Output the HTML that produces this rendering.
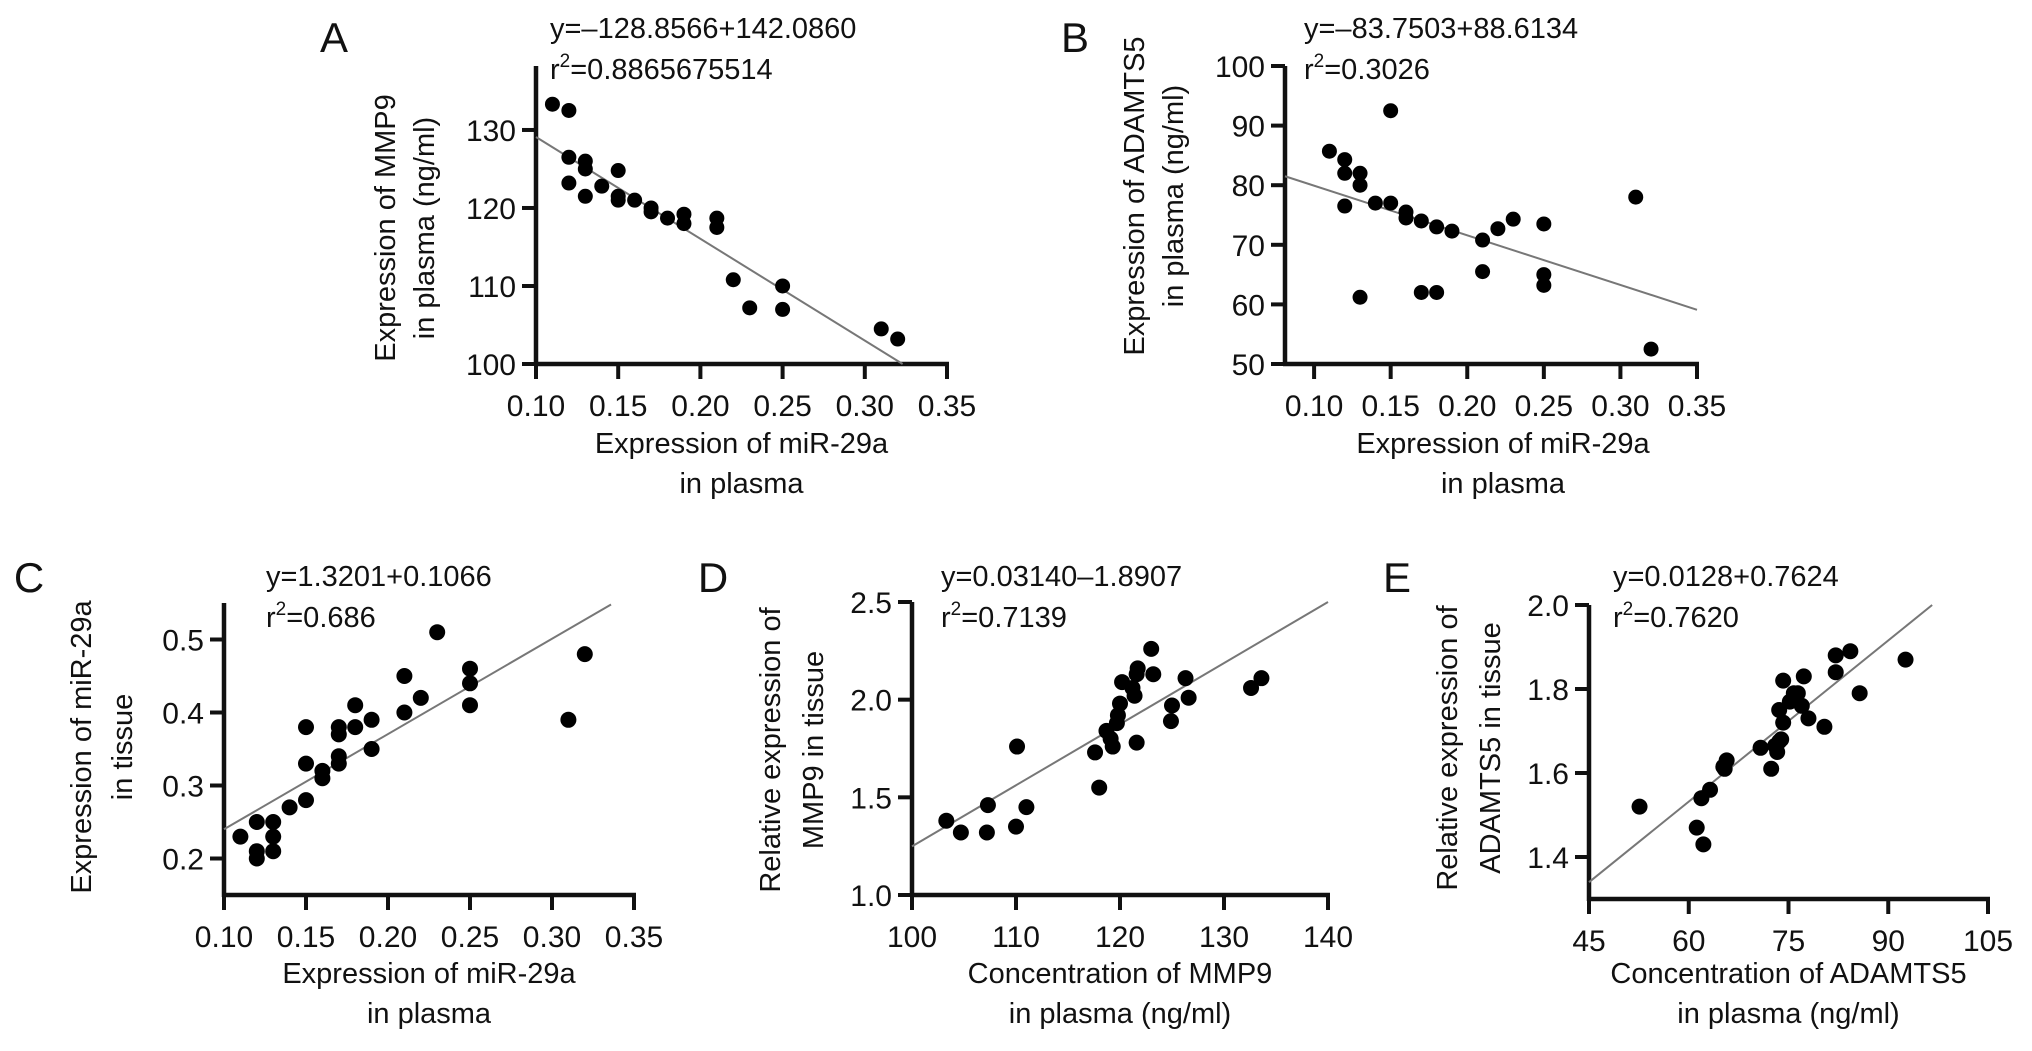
<!DOCTYPE html>
<html><head><meta charset="utf-8"><style>
html,body{margin:0;padding:0;background:#fff;}
svg{display:block;}
text{font-family:"Liberation Sans",sans-serif;fill:#111;}
.nar{font-family:"Liberation Sans Narrow","Liberation Sans",sans-serif;}
</style></head><body>
<svg id="fig" width="2032" height="1051" viewBox="0 0 2032 1051"></svg>
<script>
// Panel A data
const aX = [0.11,0.12,0.12,0.12,0.13,0.13,0.13,0.14,0.15,0.15,0.15,0.16,0.17,0.17,0.18,0.19,0.19,0.21,0.21,0.22,0.23,0.25,0.25,0.31,0.32];
const aY = [133.3,132.5,126.5,123.2,126,125,121.5,122.8,124.8,121.5,121,121,120,119.5,118.7,119.2,118,118.7,117.5,110.8,107.2,110,107,104.5,103.2];
const aFitX = [0.10,0.323];
const aFitY = [129.1,100];
const aXTicks = [0.10,0.15,0.20,0.25,0.30,0.35];
const aYTicks = [100,110,120,130];
// Panel B data
const bX = [0.11,0.12,0.12,0.12,0.13,0.13,0.13,0.14,0.15,0.15,0.16,0.16,0.17,0.17,0.18,0.18,0.19,0.21,0.21,0.22,0.23,0.25,0.25,0.25,0.31,0.32];
const bY = [85.7,84.3,82,76.5,82,80,61.2,77,92.5,77,75.5,74.5,74,62,73,62,72.3,70.8,65.5,72.7,74.3,73.5,65,63.2,78,52.5];
const bFitX = [0.081,0.35];
const bFitY = [81.5,59.1];
const bXTicks = [0.10,0.15,0.20,0.25,0.30,0.35];
const bYTicks = [50,60,70,80,90,100];
// Panel C data
const cX = [0.11,0.12,0.12,0.12,0.13,0.13,0.13,0.14,0.15,0.15,0.15,0.16,0.16,0.17,0.17,0.17,0.17,0.18,0.18,0.19,0.19,0.21,0.21,0.22,0.23,0.25,0.25,0.25,0.31,0.32];
const cY = [0.23,0.25,0.21,0.20,0.25,0.23,0.21,0.27,0.38,0.33,0.28,0.31,0.32,0.38,0.37,0.34,0.33,0.41,0.38,0.39,0.35,0.45,0.40,0.42,0.51,0.46,0.44,0.41,0.39,0.48];
const cFitX = [0.10,0.336];
const cFitY = [0.24,0.548];
const cXTicks = [0.10,0.15,0.20,0.25,0.30,0.35];
const cYTicks = [0.2,0.3,0.4,0.5];
// Panel D data
const dX = [103.3,104.7,107.2,107.3,110,110.1,111,117.6,118,118.7,119.1,119.3,119.7,119.8,120,120.2,121.2,121.4,121.6,121.7,121.6,123,123.2,125,124.9,126.3,126.6,132.6,133.6];
const dY = [1.38,1.32,1.32,1.46,1.35,1.76,1.45,1.73,1.55,1.84,1.80,1.76,1.88,1.92,1.98,2.09,2.06,2.02,2.13,2.16,1.78,2.26,2.13,1.97,1.89,2.11,2.01,2.06,2.11];
const dFitX = [100,140];
const dFitY = [1.249,2.5];
const dXTicks = [100,110,120,130,140];
const dYTicks = [1.0,1.5,2.0,2.5];
// Panel E data
const eX = [52.6,61.2,62.2,61.9,63.2,65.2,65.7,65.4,70.8,72.4,73,73.3,73.6,73.9,73.6,74.2,74.2,75.2,75.8,76.4,77,77.3,78,80.4,82.1,82.1,84.3,85.7,92.6];
const eY = [1.52,1.47,1.43,1.54,1.56,1.615,1.63,1.61,1.66,1.61,1.665,1.65,1.675,1.68,1.75,1.72,1.82,1.77,1.79,1.79,1.76,1.83,1.73,1.71,1.84,1.88,1.89,1.79,1.87];
const eFitX = [45,96.6];
const eFitY = [1.34,2.0];
const eXTicks = [45,60,75,90,105];
const eYTicks = [1.4,1.6,1.8,2.0];

const NS = "http://www.w3.org/2000/svg";
const svg = document.getElementById('fig');
function mk(tag, attrs, parent){
  const el = document.createElementNS(NS, tag);
  for (const k in attrs) el.setAttribute(k, attrs[k]);
  (parent||svg).appendChild(el);
  return el;
}
function txt(s, x, y, size, anchor, cls, parent, name){
  const t = mk('text', {x:x, y:y, 'font-size':size, 'text-anchor':anchor||'start'}, parent);
  if (cls) t.setAttribute('class', cls);
  
  
  t.textContent = s;
  return t;
}
function panel(p){
  const g = mk('g', {});
  
  
  const sx = v => p.px[0] + (v - p.dx[0]) / (p.dx[1]-p.dx[0]) * (p.px[1]-p.px[0]);
  const sy = v => p.py[0] + (v - p.dy[0]) / (p.dy[1]-p.dy[0]) * (p.py[1]-p.py[0]);
  const cls = p.narrow ? 'nar' : '';
  const ya = mk('line', {x1:p.px[0], y1:p.py[0]+2, x2:p.px[0], y2:p.py[1], stroke:'#111', 'stroke-width':4.5}, g);
  
  
  const xa = mk('line', {x1:p.px[0]-2, y1:p.py[0], x2:p.px[1]+2, y2:p.py[0], stroke:'#111', 'stroke-width':4.5}, g);
  
  
  p.xt.forEach(v => {
    const x = sx(v);
    const tk = mk('line', {x1:x, y1:p.py[0], x2:x, y2:p.py[0]+15, stroke:'#111', 'stroke-width':4}, g);
    
    
    txt(p.xfmt(v), x, p.py[0]+52, 30, 'middle', cls, g, 'x-tick-label');
  });
  p.yt.forEach(v => {
    const y = sy(v);
    const tk = mk('line', {x1:p.px[0]-14, y1:y, x2:p.px[0], y2:y, stroke:'#111', 'stroke-width':4}, g);
    
    
    txt(p.yfmt(v), p.px[0]-20, y+11, 30, 'end', cls, g, 'y-tick-label');
  });
  const fl = mk('line', {x1:sx(p.fx[0]), y1:sy(p.fy[0]), x2:sx(p.fx[1]), y2:sy(p.fy[1]), stroke:'#777', 'stroke-width':2}, g);
  
  
  p.xs.forEach((v,i) => {
    const c = mk('circle', {cx:sx(v), cy:sy(p.ys[i]), r:p.r, fill:'#000'}, g);
    
    
  });
  txt(p.id, p.lab[0], p.lab[1], 42, 'middle', '', g, 'panel-label');
  txt(p.eq, p.eqx, p.eqy, 29, 'start', cls, g, 'regression-equation');
  const r2 = txt('r', p.eqx, p.eqy+41, 29, 'start', cls, g, 'r-squared');
  const sup = mk('tspan', {dy:-12, 'font-size':19}, r2); sup.textContent = '2';
  const rest = mk('tspan', {dy:12}, r2); rest.textContent = p.r2;
  const cx = (p.px[0]+p.px[1])/2 + p.tOff;
  txt(p.xt1, cx, p.tY, 29, 'middle', cls, g, 'x-axis-title');
  txt(p.xt2, cx, p.tY+40, 29, 'middle', cls, g, 'x-axis-title-line2');
  const yg = mk('g', {transform:'translate(' + p.yT[0] + ',' + p.yT[2] + ') rotate(-90)'}, g);
  
  
  txt(p.yt1, 0, 10, 29, 'middle', '', yg, 'y-axis-title-line1');
  txt(p.yt2, 0, 10 + (p.yT[1]-p.yT[0]), 29, 'middle', '', yg, 'y-axis-title-line2');
}
const f2 = v => v.toFixed(2), f1 = v => v.toFixed(1), f0 = v => v.toFixed(0);
panel({id:'A', px:[536,947], dx:[0.10,0.35], py:[364,66], dy:[100,138.2], xs:aX, ys:aY, fx:aFitX, fy:aFitY, xt:aXTicks, yt:aYTicks, xfmt:f2, yfmt:f0, r:7.5, narrow:true,
  lab:[334,52], eq:'y=\u2013128.8566+142.0860', r2:'=0.8865675514', eqx:550, eqy:38, xt1:'Expression of miR-29a', xt2:'in plasma', tY:453, tOff:0,
  yt1:'Expression of MMP9', yt2:'in plasma (ng/ml)', yT:[385,424,228]});
panel({id:'B', px:[1285,1697], dx:[0.081,0.35], py:[364,66], dy:[50,100], xs:bX, ys:bY, fx:bFitX, fy:bFitY, xt:bXTicks, yt:bYTicks, xfmt:f2, yfmt:f0, r:7.5, narrow:true,
  lab:[1075,52], eq:'y=\u201383.7503+88.6134', r2:'=0.3026', eqx:1304, eqy:38, xt1:'Expression of miR-29a', xt2:'in plasma', tY:453, tOff:12,
  yt1:'Expression of ADAMTS5', yt2:'in plasma (ng/ml)', yT:[1134,1173,196]});
panel({id:'C', px:[224,634], dx:[0.10,0.35], py:[895,603], dy:[0.15,0.55], xs:cX, ys:cY, fx:cFitX, fy:cFitY, xt:cXTicks, yt:cYTicks, xfmt:f2, yfmt:f1, r:8,
  lab:[29,592], eq:'y=1.3201+0.1066', r2:'=0.686', eqx:266, eqy:586, xt1:'Expression of miR-29a', xt2:'in plasma', tY:983, tOff:0,
  yt1:'Expression of miR-29a', yt2:'in tissue', yT:[81,122,747]});
panel({id:'D', px:[912,1328], dx:[100,140], py:[895,602], dy:[1.0,2.5], xs:dX, ys:dY, fx:dFitX, fy:dFitY, xt:dXTicks, yt:dYTicks, xfmt:f0, yfmt:f1, r:8,
  lab:[713,592], eq:'y=0.03140\u20131.8907', r2:'=0.7139', eqx:941, eqy:586, xt1:'Concentration of MMP9', xt2:'in plasma (ng/ml)', tY:983, tOff:0,
  yt1:'Relative expression of', yt2:'MMP9 in tissue', yT:[770,813,750]});
panel({id:'E', px:[1589,1988], dx:[45,105], py:[899,605], dy:[1.3,2.0], xs:eX, ys:eY, fx:eFitX, fy:eFitY, xt:eXTicks, yt:eYTicks, xfmt:f0, yfmt:f1, r:8,
  lab:[1397,592], eq:'y=0.0128+0.7624', r2:'=0.7620', eqx:1613, eqy:586, xt1:'Concentration of ADAMTS5', xt2:'in plasma (ng/ml)', tY:983, tOff:0,
  yt1:'Relative expression of', yt2:'ADAMTS5 in tissue', yT:[1447,1490,748]});
</script>
</body></html>
